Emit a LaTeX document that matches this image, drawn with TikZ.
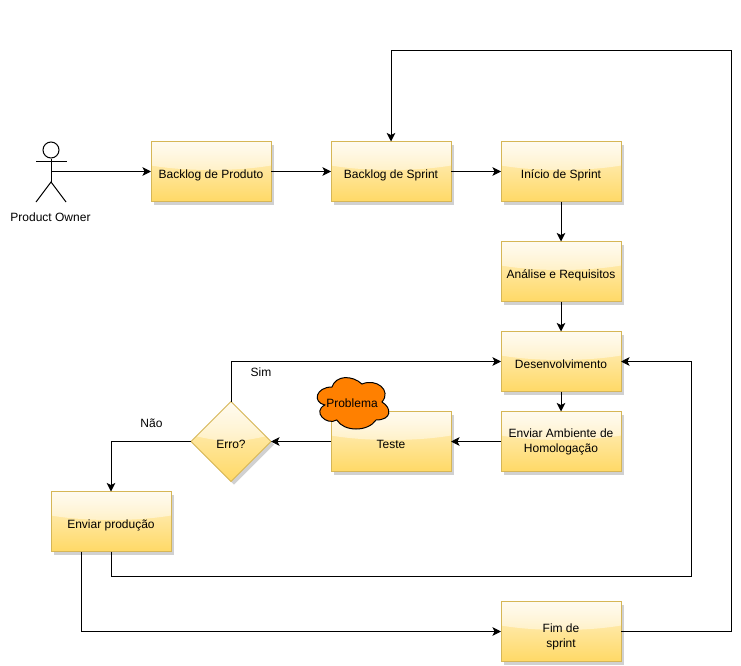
\documentclass[tikz,border=0pt]{standalone}
\usepackage{fontspec}
\setmainfont{Liberation Sans}
\usetikzlibrary{arrows.meta,calc,shadows,fadings,shapes.geometric}
\definecolor{fillTop}{HTML}{FFF2CC}
\definecolor{fillBot}{HTML}{FFD966}
\definecolor{edgeY}{HTML}{D6B656}
\definecolor{cloudO}{HTML}{FF8000}
\tikzfading[name=gloss, top color=transparent!30, bottom color=transparent!85]
\tikzset{
  x=1pt,y=-1pt,
  glossy/.style={
    draw=edgeY, line width=1pt, top color=fillTop, bottom color=fillBot,
    general shadow={shadow xshift=3pt,shadow yshift=-3pt,fill=black!18},
    path picture={
      \fill[white,path fading=gloss]
        (path picture bounding box.north west) -- (path picture bounding box.north east)
        -- ($(path picture bounding box.north east)!#1!(path picture bounding box.south east)$)
        .. controls ($(path picture bounding box.north east)!#1+0.1!(path picture bounding box.south east)+(-35,0)$)
        and ($(path picture bounding box.north west)!#1+0.1!(path picture bounding box.south west)+(35,0)$)
        .. ($(path picture bounding box.north west)!#1!(path picture bounding box.south west)$) -- cycle;
    }},
  paleedge/.style={white,line width=1.2pt,path fading=gloss},
  procbox/.style={glossy=0.4, rectangle, minimum width=120pt, minimum height=60pt, inner sep=0pt, outer sep=0pt, align=center, text=black,
    execute at begin node={\rule[-2.4pt]{0pt}{18.4pt}},
    append after command={\pgfextra{
      \draw[paleedge] ($(\tikzlastnode.north west)!0.4!(\tikzlastnode.south west)$) -- (\tikzlastnode.north west) -- (\tikzlastnode.north east) -- ($(\tikzlastnode.north east)!0.4!(\tikzlastnode.south east)$);
    }}},
  gate/.style={glossy=0.42, diamond, minimum width=80pt, minimum height=80pt, inner sep=0pt, outer sep=0pt, align=center,
    execute at begin node={\rule[-2.4pt]{0pt}{18.4pt}},
    append after command={\pgfextra{
      \draw[paleedge] (\tikzlastnode.west) -- (\tikzlastnode.north) -- (\tikzlastnode.east);
    }}},
  conn/.style={line width=1pt, -{Stealth[length=8.5pt,width=8.5pt,inset=2pt]}},
  plainline/.style={line width=1pt},
  lbl/.style={inner sep=0pt, outer sep=0pt, align=center},
  every node/.append style={font=\fontsize{12}{15}\selectfont}
}
\begin{document}
\begin{tikzpicture}
\useasboundingbox (0,0) rectangle (741,666);
\fill[white] (0,0) rectangle (741,666);

\node[procbox] (bp) at (211,171.5) {Backlog de Produto};
\node[procbox] (bs) at (391,171.5) {Backlog de Sprint};
\node[procbox] (is) at (561,171.5) {Início de Sprint};
\node[procbox] (ar) at (561,271.5) {Análise e Requisitos};
\node[procbox] (de) at (561,361.5) {Desenvolvimento};
\node[procbox] (eh) at (561,441.5) {Enviar Ambiente de\\Homologação};
\node[procbox] (te) at (391,441.5) {Teste};
\node[gate]    (er) at (231,441.5) {Erro?};
\node[procbox] (ep) at (111,521.5) {Enviar produção};
\node[procbox] (fs) at (561,631.5) {\rule{0pt}{18.5pt}Fim de\\sprint};

% actor
\node[draw,circle,fill=white,line width=1pt,minimum size=16pt,inner sep=0pt] (head) at (51,150) {};
\coordinate (hip) at (51,182);
\coordinate (waist) at (51,171.5);
\coordinate (armL) at (36,161);
\coordinate (armR) at (67,161);
\coordinate (legL) at (36,202);
\coordinate (legR) at (66,202);
\draw[plainline] (head.south) -- (hip);
\draw[plainline] (armL) -- (armR);
\draw[plainline] (legL) -- (hip) -- (legR);
\node[lbl] (po) at (50.5,217) {Product Owner};

% cloud (mxGraph outline)
\begin{scope}[shift={(312,372)},x=80pt,y=-60pt]
\draw[fill=cloudO,draw=black,line width=1pt]
  (0.25,0.25) .. controls (0.05,0.25) and (0,0.5) .. (0.16,0.55)
  .. controls (0,0.66) and (0.18,0.9) .. (0.31,0.8)
  .. controls (0.4,1) and (0.7,1) .. (0.8,0.8)
  .. controls (1,0.8) and (1,0.6) .. (0.875,0.5)
  .. controls (1,0.3) and (0.8,0.1) .. (0.625,0.2)
  .. controls (0.5,0.05) and (0.3,0.05) .. (0.25,0.25) -- cycle;
\end{scope}
\node[lbl] (cltext) at (352,403) {Problema};

% labels
\node[lbl] (sim) at (261,372.5) {Sim};
\node[lbl] (nao) at (151.5,423) {Não};

% connectors
\coordinate (bendA) at (111,576);
\coordinate (bendB) at (691,576);
\coordinate (bendC) at (731,631.5);
\coordinate (bendD) at (731,51);
\coordinate (bendE) at (391,51);
\coordinate (epout) at ($(ep.south)+(-30,0)$);
\draw[conn] (waist) -- (bp.west);
\draw[conn] (bp) -- (bs);
\draw[conn] (bs) -- (is);
\draw[conn] (is) -- (ar);
\draw[conn] (ar) -- (de);
\draw[conn] (de) -- (eh);
\draw[conn] (eh) -- (te);
\draw[conn] (te) -- (er);
\draw[conn] (er.north) |- (de.west);
\draw[conn] (er.west) -| (ep.north);
\draw[conn] (ep.south) -- (bendA) -- (bendB) |- (de.east);
\draw[conn] (epout) |- (fs.west);
\draw[conn] (fs.east) -- (bendC) -- (bendD) -- (bendE) -- (bs.north);
\end{tikzpicture}
\end{document}
